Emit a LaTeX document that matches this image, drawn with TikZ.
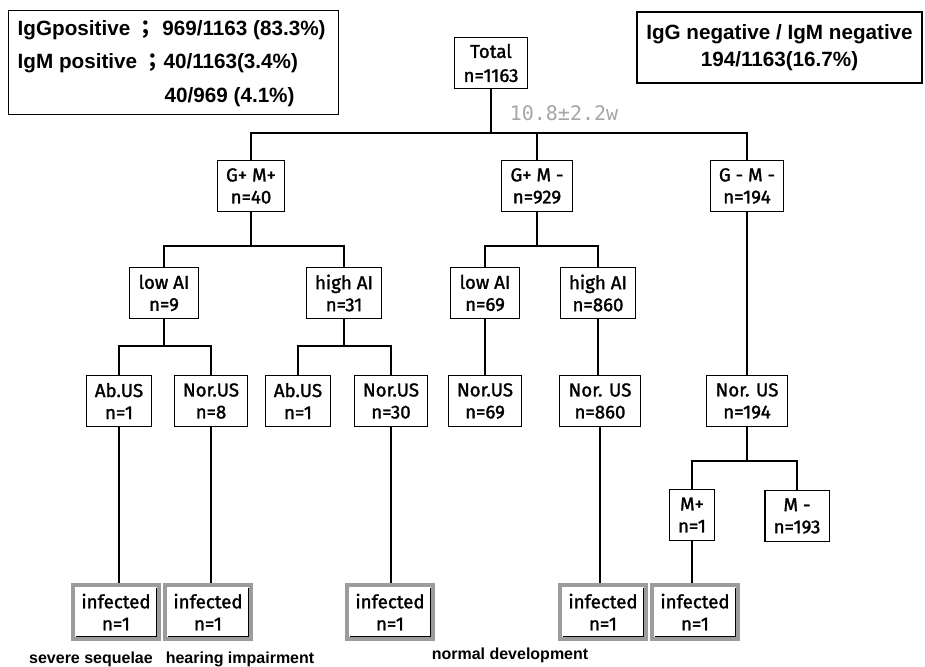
\documentclass[tikz,border=0pt]{standalone}
\usepackage{fontspec}
\setmainfont{Liberation Sans}
\newfontfamily\treefont{Fira Sans}[FakeBold=1.5]
\newfontfamily\weekfont{DejaVu Sans Mono}
\newfontfamily\cjk{Noto Sans CJK JP}
\usetikzlibrary{positioning}
\definecolor{FrameGray}{HTML}{9C9C9C}
\definecolor{WeekGray}{HTML}{A6A6A6}

\begin{document}
\begin{tikzpicture}[x=0.75pt,y=-0.75pt,
      box/.style={draw,line width=0.8pt,align=center,inner xsep=6.5pt,inner ysep=2pt,
      minimum height=38pt,font=\treefont\fontsize{14}{16.5}\selectfont},
      infbox/.style={box,draw=FrameGray,line width=3pt,minimum width=64.5pt,minimum height=40.5pt,
      path picture={\draw[black,line width=0.9pt]
        ([xshift=-2.1pt,yshift=-2.1pt]path picture bounding box.north east)
        --([xshift=-2.1pt,yshift=2.1pt]path picture bounding box.south east)
        --([xshift=2.1pt,yshift=2.1pt]path picture bounding box.south west);}},
      legend/.style={draw,line width=0.8pt},
      legtext/.style={font=\bfseries\fontsize{15.5}{20}\selectfont},
      outcome/.style={font=\bfseries\fontsize{12}{14}\selectfont},
      link/.style={line width=0.8pt}]
      \useasboundingbox (0,0) rectangle (925,667);
      \node[legend,anchor=north west,minimum width=247.5pt,minimum height=78pt] (igpos) at (8,10) {};
      \node[legtext,anchor=west] (igg) at (13,30) {IgGpositive {\cjk ；} 969/1163 (83.3\%)};
      \node[legtext,anchor=west] (igm) at (13,63) {IgM positive {\cjk ；}40/1163(3.4\%)};
      \node[legtext,anchor=west] (igm2) at (160,97) {40/969 (4.1\%)};
      \node[legend,legtext,align=center,minimum width=213.75pt,minimum height=53.25pt] (igneg)
        at (779.5,47.5) {IgG negative / IgM negative\\194/1163(16.7\%)};
      \node[box,font=\treefont\fontsize{14}{18}\selectfont] (total) at (491,63) {Total\\n=1163};
      \node[font=\weekfont\fontsize{15}{18}\selectfont,text=WeekGray] (gaw) at (564,113) {10.8±2.2w};
      \node[box] (gpmp) at (251,186) {G+ M+\\n=40};
      \node[box] (gpmm) at (537,186) {G+ M -\\n=929};
      \node[box] (gmmm) at (747,186) {G - M -\\n=194};
      \node[box] (lowA) at (164,293) {low AI\\n=9};
      \node[box] (highA) at (344,293) {high AI\\n=31};
      \node[box] (lowB) at (485,293) {low AI\\n=69};
      \node[box] (highB) at (598,293) {high AI\\n=860};
      \node[box] (abA) at (119,401) {Ab.US\\n=1};
      \node[box] (norA) at (211,401) {Nor.US\\n=8};
      \node[box] (abB) at (298,401) {Ab.US\\n=1};
      \node[box] (norB) at (391,401) {Nor.US\\n=30};
      \node[box] (norC) at (485,401) {Nor.US\\n=69};
      \node[box] (norD) at (600,401) {Nor. US\\n=860};
      \node[box] (norE) at (747,401) {Nor. US\\n=194};
      \node[box] (mpos) at (692,515) {M+\\n=1};
      \node[box] (mneg) at (797,516) {M -\\n=193};
      \node[infbox] (infA) at (116,612) {infected\\n=1};
      \node[infbox] (infB) at (208,612) {infected\\n=1};
      \node[infbox] (infC) at (390,612) {infected\\n=1};
      \node[infbox] (infD) at (603,612) {infected\\n=1};
      \node[infbox] (infE) at (695,612) {infected\\n=1};
      \node[outcome] (sev) at (91,659) {severe sequelae};
      \node[outcome] (hear) at (240,659) {hearing impairment};
      \node[outcome] (normal) at (510,655) {normal development};
      \coordinate (bus0) at (0,133);
      \coordinate (bus1) at (0,246);
      \coordinate (bus2) at (0,346);
      \coordinate (bus3) at (0,461);
      \draw[link] (total.south) -- (total.south |- bus0);
      \draw[link] (gpmp.north) |- (gmmm.north |- bus0) -- (gmmm.north);
      \draw[link] (gpmm.north) -- (gpmm.north |- bus0);
      \draw[link] (gpmp.south) -- (gpmp.south |- bus1);
      \draw[link] (lowA.north) |- (highA.north |- bus1) -- (highA.north);
      \draw[link] (gpmm.south) -- (gpmm.south |- bus1);
      \draw[link] (lowB.north) |- (highB.north |- bus1) -- (highB.north);
      \draw[link] (lowA.south) -- (lowA.south |- bus2);
      \draw[link] (abA.north) |- (norA.north |- bus2) -- (norA.north);
      \draw[link] (highA.south) -- (highA.south |- bus2);
      \draw[link] (abB.north) |- (norB.north |- bus2) -- (norB.north);
      \draw[link] (lowB) -- (norC);
      \draw[link] (highB.south) -- (highB.south |- norD.north);
      \draw[link] (gmmm) -- (norE);
      \draw[link] (norE.south) -- (norE.south |- bus3);
      \draw[link] (mpos.north) |- (mneg.north |- bus3) -- (mneg.north);
      \draw[link] (abA.south) -- (abA.south |- infA.north);
      \draw[link] (norA.south) -- (norA.south |- infB.north);
      \draw[link] (norB.south) -- (norB.south |- infC.north);
      \draw[link] (norD.south) -- (norD.south |- infD.north);
      \draw[link] (mpos.south) -- (mpos.south |- infE.north);
    \end{tikzpicture}
\end{document}
